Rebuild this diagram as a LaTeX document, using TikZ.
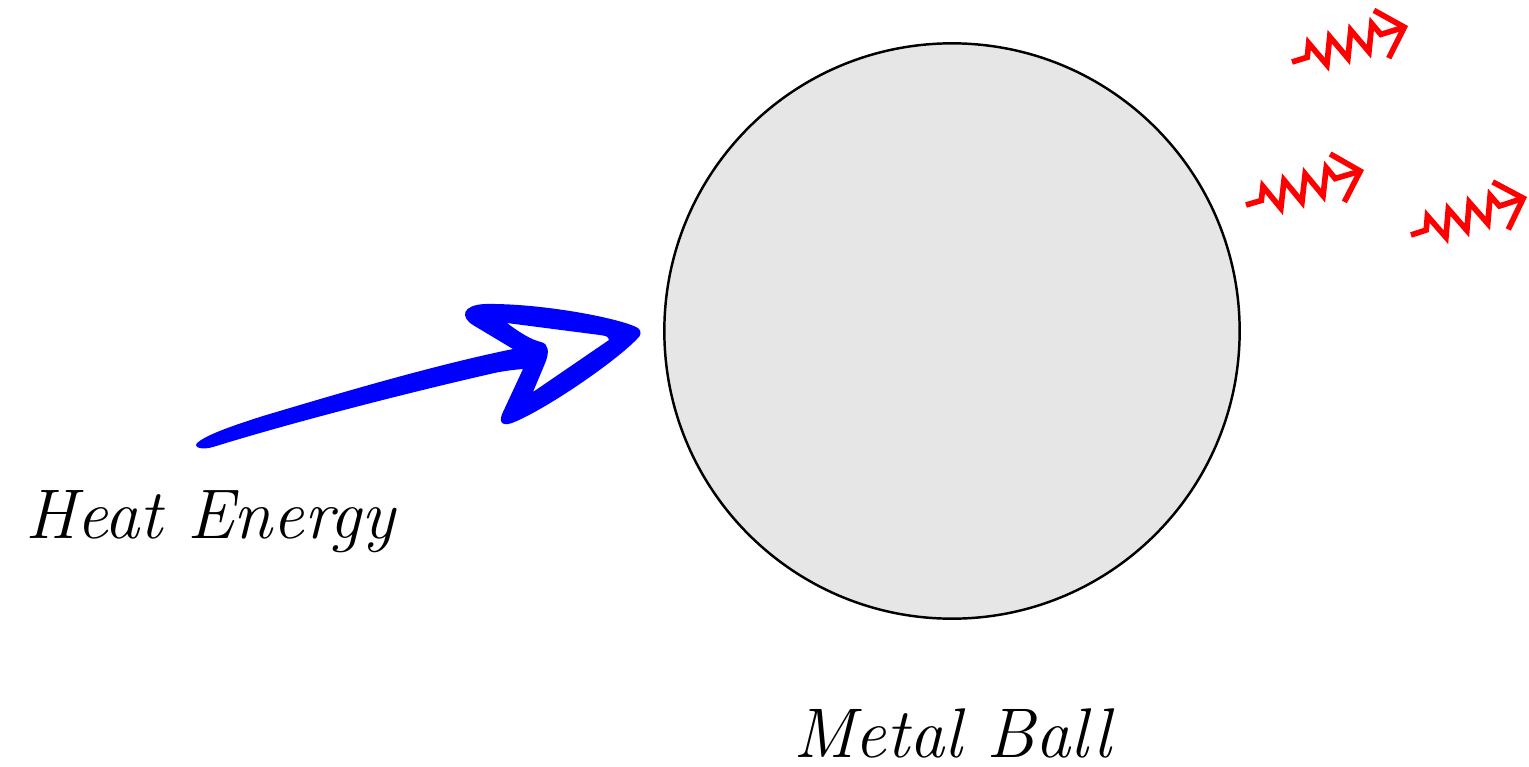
\documentclass[tikz,border=0pt]{standalone}
\usepackage{tikz}
\usetikzlibrary{arrows.meta, decorations.pathmorphing}
\definecolor{ballgray}{RGB}{230,230,230}
\definecolor{heatblue}{RGB}{0,0,255}
\definecolor{rayred}{RGB}{255,0,0}

\tikzset{
  lbl/.style={font=\fontsize{20}{24}\selectfont\itshape, inner sep=0pt, anchor=base},
  ray/.style={rayred, line width=1.6pt, decorate,
    decoration={zigzag, segment length=0.22cm, amplitude=0.13cm, pre length=0.16cm, post length=0.24cm},
    -{Straight Barb[length=2.4mm, width=5mm]}},
}

\begin{document}
\begin{tikzpicture}[x=0.01cm, y=-0.01cm]
  \useasboundingbox (0,0) rectangle (1529,766);

  \node[draw, circle, fill=ballgray, line width=0.7pt, minimum size=5.75cm, inner sep=0pt] (ball) at (952,331) {};
  \node[lbl] (balltext) at (952,757) {Metal Ball};
  \node[lbl] (heattext) at (210,538) {Heat Energy};

  % hand drawn heat arrow
  \fill[heatblue, even odd rule]
    (197,443) .. controls (205,436) and (225,428) .. (263,416)
    .. controls (330,396) and (430,366) .. (513,349)
    -- (473,325) .. controls (460,317) and (462,305) .. (485,304)
    .. controls (540,303) and (620,318) .. (638,328)
    .. controls (642,331) and (641,336) .. (637,339)
    .. controls (615,362) and (545,410) .. (512,423)
    .. controls (500,427) and (499,420) .. (503,412)
    -- (523,369)
    .. controls (510,370) and (498,372) .. (490,374)
    .. controls (420,390) and (300,420) .. (213,447)
    .. controls (203,450) and (193,448) .. (197,443) -- cycle
    (507,323) .. controls (520,333) and (532,340) .. (541,342)
    .. controls (549,344) and (549,352) .. (546,361)
    -- (533,392) -- (609,340)
    .. controls (608,336) and (606,336) .. (600,335) -- cycle;

  \coordinate (r1s) at (1292,62);
  \coordinate (r1e) at (1408,26);
  \coordinate (r2s) at (1246,205);
  \coordinate (r2e) at (1364,170);
  \coordinate (r3s) at (1411,235);
  \coordinate (r3e) at (1527,197);
  \draw[ray] (r1s) -- (r1e);
  \draw[ray] (r2s) -- (r2e);
  \draw[ray] (r3s) -- (r3e);
\end{tikzpicture}
\end{document}
